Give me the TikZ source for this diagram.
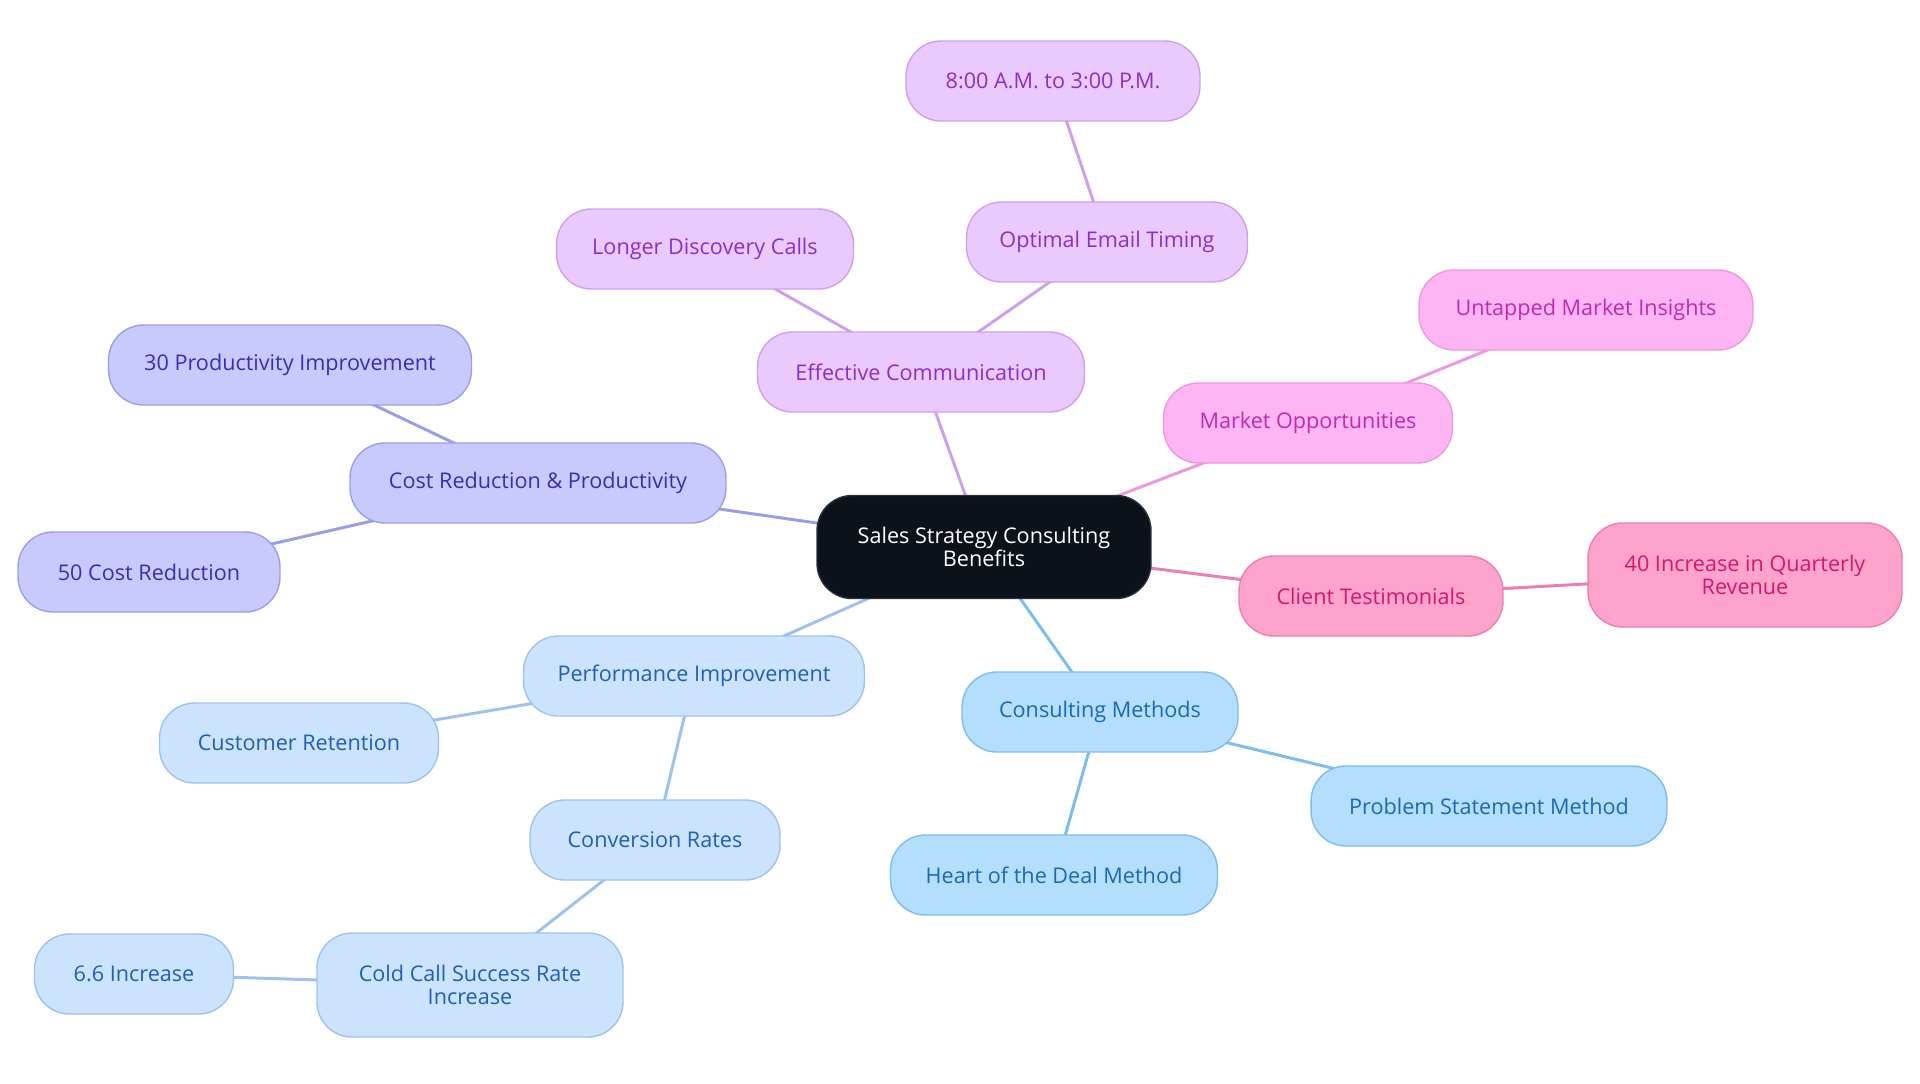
\documentclass[tikz,border=0pt]{standalone}
\usepackage{fontspec}
\setsansfont{Open Sans}
\usepackage{xcolor}
\usetikzlibrary{backgrounds}

\definecolor{hubfill}{HTML}{0B1219}
\definecolor{hubline}{HTML}{2B3138}
\definecolor{indigofill}{HTML}{C8CAFD}
\definecolor{indigoline}{HTML}{9A9EE9}
\definecolor{indigotext}{HTML}{3B2DB3}
\definecolor{violetfill}{HTML}{EAC9FD}
\definecolor{violetline}{HTML}{CDA0EE}
\definecolor{violettext}{HTML}{8B2FC9}
\definecolor{pinkfill}{HTML}{FDB5F3}
\definecolor{pinkline}{HTML}{EE96E0}
\definecolor{pinktext}{HTML}{C12AB0}
\definecolor{rosefill}{HTML}{FDA3CC}
\definecolor{roseline}{HTML}{EC7EB2}
\definecolor{rosetext}{HTML}{D3186F}
\definecolor{skyfill}{HTML}{B3DEFE}
\definecolor{skyline}{HTML}{7DBDEB}
\definecolor{skytext}{HTML}{1A6BAE}
\definecolor{palefill}{HTML}{CCE3FD}
\definecolor{paleline}{HTML}{9DC2EC}
\definecolor{paletext}{HTML}{1F5FB5}

\tikzset{
	mapnode/.style={rounded corners=0.7cm, minimum height=1.6cm, inner xsep=4pt,
		align=center, line width=0.8pt,
		font=\sffamily\fontsize{12.3}{13.5}\selectfont},
	hubnode/.style={mapnode, fill=hubfill, draw=hubline, text=white},
	indigonode/.style={mapnode, fill=indigofill, draw=indigoline, text=indigotext},
	violetnode/.style={mapnode, fill=violetfill, draw=violetline, text=violettext},
	pinknode/.style={mapnode, fill=pinkfill, draw=pinkline, text=pinktext},
	rosenode/.style={mapnode, fill=rosefill, draw=roseline, text=rosetext},
	skynode/.style={mapnode, fill=skyfill, draw=skyline, text=skytext},
	palenode/.style={mapnode, fill=palefill, draw=paleline, text=paletext},
	link/.style={line width=1.7pt},
}

\begin{document}
\begin{tikzpicture}[x=0.02cm, y=-0.02cm]
	\useasboundingbox (0,0) rectangle (1920,1083);
	% ---------- hub ----------
	\node[hubnode, minimum width=6.68cm, minimum height=2.06cm] (hub) at (984,547)
	{Sales Strategy Consulting\\Benefits};
	% ---------- cost branch ----------
	\node[indigonode, minimum width=7.52cm] (cost) at (538,483) {Cost Reduction \& Productivity};
	\node[indigonode, minimum width=7.26cm] (prod) at (290,365) {30 Productivity Improvement};
	\node[indigonode, minimum width=5.24cm] (costcut) at (149,572) {50 Cost Reduction};
	% ---------- communication branch ----------
	\node[violetnode, minimum width=6.54cm] (comm) at (921,372) {Effective Communication};
	\node[violetnode, minimum width=5.94cm] (calls) at (705,249) {Longer Discovery Calls};
	\node[violetnode, minimum width=5.62cm] (email) at (1107,242) {Optimal Email Timing};
	\node[violetnode, minimum width=5.88cm] (hours) at (1053,81) {8:00 A.M. to 3:00 P.M.};
	% ---------- market branch ----------
	\node[pinknode, minimum width=5.78cm] (market) at (1308,423) {Market Opportunities};
	\node[pinknode, minimum width=6.68cm] (insights) at (1586,310) {Untapped Market Insights};
	% ---------- testimonial branch ----------
	\node[rosenode, minimum width=5.28cm] (client) at (1371,596) {Client Testimonials};
	\node[rosenode, minimum width=6.28cm, minimum height=2.08cm] (revenue) at (1745,575)
	{40 Increase in Quarterly\\Revenue};
	% ---------- methods branch ----------
	\node[skynode, minimum width=5.52cm] (methods) at (1100,712) {Consulting Methods};
	\node[skynode, minimum width=7.12cm] (problem) at (1489,806) {Problem Statement Method};
	\node[skynode, minimum width=6.54cm] (heart) at (1054,875) {Heart of the Deal Method};
	% ---------- performance branch ----------
	\node[palenode, minimum width=6.82cm] (perf) at (694,676) {Performance Improvement};
	\node[palenode, minimum width=5.58cm] (retention) at (299,743) {Customer Retention};
	\node[palenode, minimum width=5.0cm] (conversion) at (655,840) {Conversion Rates};
	\node[palenode, minimum width=6.12cm, minimum height=2.08cm] (coldcall) at (470,985)
	{Cold Call Success Rate\\Increase};
	\node[palenode, minimum width=3.98cm] (sixsix) at (134,974) {6.6 Increase};
	% ---------- connectors behind the boxes ----------
	\begin{scope}[on background layer]
		\foreach \a/\b in {hub/cost, cost/prod, cost/costcut}
		\draw[link, indigoline] (\a.center) -- (\b.center);
		\foreach \a/\b in {hub/comm, comm/calls, comm/email, email/hours}
		\draw[link, violetline] (\a.center) -- (\b.center);
		\foreach \a/\b in {hub/market, market/insights}
		\draw[link, pinkline] (\a.center) -- (\b.center);
		\foreach \a/\b in {hub/client, client/revenue}
		\draw[link, roseline] (\a.center) -- (\b.center);
		\foreach \a/\b in {hub/methods, methods/problem, methods/heart}
		\draw[link, skyline] (\a.center) -- (\b.center);
		\foreach \a/\b in {hub/perf, perf/retention, perf/conversion, conversion/coldcall, coldcall/sixsix}
		\draw[link, paleline] (\a.center) -- (\b.center);
	\end{scope}
\end{tikzpicture}
\end{document}
